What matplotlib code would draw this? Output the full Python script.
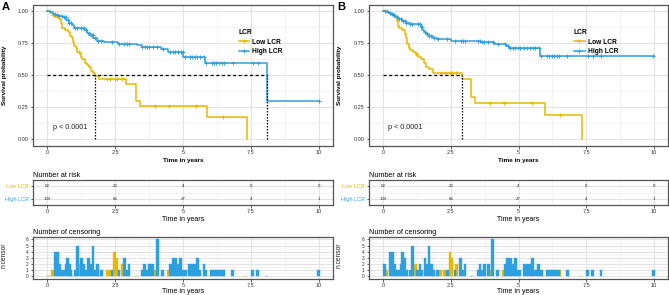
import numpy as np
import matplotlib
matplotlib.use("Agg")
import matplotlib.pyplot as plt
from matplotlib.lines import Line2D

plt.rcParams['font.family'] = ['Liberation Sans', 'DejaVu Sans']

low_color = '#E7B800'
high_color = '#2E9FDF'
groups = ['Low LCR', 'High LCR']

# ---- panel A data ----
a_low_t = [0.12, 0.2, 0.3, 0.45, 0.5, 0.55, 0.65, 0.75, 0.85, 0.9, 0.95, 1.0, 1.05, 1.1, 1.2,
           1.25, 1.3, 1.38, 1.45, 1.55, 1.62, 1.7, 1.76, 1.9, 2.92, 3.28, 3.40, 5.9, 7.35]
a_low_s = [0.984, 0.968, 0.952, 0.935, 0.903, 0.871, 0.855, 0.839, 0.806, 0.79, 0.758, 0.726, 0.71,
           0.677, 0.661, 0.645, 0.629, 0.597, 0.581, 0.565, 0.532, 0.516, 0.49, 0.472, 0.43, 0.30,
           0.262, 0.17, 0.0]
a_high_t = [0.1, 0.2, 0.3, 0.45, 0.55, 0.7, 0.8, 0.9, 1.0, 1.35, 1.45, 1.55, 1.7, 1.85, 2.1,
            2.6, 3.3, 3.5, 4.2, 4.45, 5.0, 5.82, 8.09]
a_high_s = [0.99, 0.98, 0.97, 0.96, 0.95, 0.93, 0.91, 0.89, 0.87, 0.85, 0.83, 0.81, 0.79, 0.77,
            0.76, 0.745, 0.735, 0.72, 0.70, 0.683, 0.644, 0.592, 0.30]
a_high_end = 10.0
a_medians = [1.76, 8.09]

# censoring counts, panel A
a_cens_low_t = [0.02, 0.2, 1.19, 2.2, 2.3, 2.49, 2.57, 2.75, 3.26, 3.98, 4.47, 5.48, 5.94, 6.47, 7.3]
a_cens_low_n = [0, 1, 2, 1, 1, 4, 3, 2, 0, 1, 1, 1, 0, 1, 0]
a_cens_high_t = [0.07, 0.29, 0.38, 0.45, 0.54, 0.62, 0.69, 0.75, 0.82, 0.88, 0.94, 1.03, 1.11,
                 1.26, 1.34, 1.42, 1.53, 1.6, 1.69, 1.77, 1.86, 1.93, 2.0, 2.39, 2.64, 2.84,
                 2.93, 3.01, 3.34, 3.5, 3.59, 3.67, 3.76, 3.89, 4.06, 4.25, 4.53, 4.63, 4.72,
                 4.81, 4.91, 4.99, 5.08, 5.24, 5.34, 5.43, 5.53, 5.62, 5.77, 5.85, 6.05, 6.13,
                 6.22, 6.34, 6.43, 6.51, 6.83, 7.56, 7.75, 8.08, 9.99]
a_cens_high_n = [0, 4, 4, 2, 1, 1, 2, 3, 2, 1, 0, 1, 5, 3, 2, 1, 3, 2, 5, 1, 2, 0, 1, 1, 1, 3,
                 1, 2, 0, 1, 2, 1, 2, 2, 6, 1, 2, 3, 3, 2, 3, 1, 1, 2, 2, 2, 3, 1, 2, 1, 1, 1,
                 1, 1, 1, 1, 1, 1, 1, 0, 1]

# ---- panel B data ----
b_low_t = [0.18, 0.3, 0.4, 0.5, 0.55, 0.6, 0.7, 0.8, 0.85, 0.9, 0.95, 1.0, 1.1, 1.2, 1.3, 1.4,
           1.5, 1.6, 1.7, 1.85, 2.91, 3.25, 3.4, 5.96, 7.35]
b_low_s = [0.984, 0.968, 0.952, 0.919, 0.887, 0.871, 0.855, 0.823, 0.79, 0.742, 0.71, 0.694,
           0.677, 0.661, 0.645, 0.629, 0.597, 0.565, 0.548, 0.516, 0.47, 0.33, 0.28, 0.19, 0.0]
b_high_t = [0.1, 0.2, 0.3, 0.4, 0.45, 0.55, 0.7, 0.85, 1.0, 1.4, 1.45, 1.5, 1.6, 1.7, 1.85, 2.0,
            2.5, 3.6, 4.1, 4.55, 4.65, 5.8]
b_high_s = [0.993, 0.986, 0.978, 0.97, 0.955, 0.94, 0.925, 0.91, 0.895, 0.875, 0.855, 0.835,
            0.82, 0.805, 0.79, 0.78, 0.77, 0.76, 0.74, 0.725, 0.71, 0.65]
b_high_end = 10.0
b_medians = [2.91]

b_cens_low_t = [0.14, 1.2, 2.13, 2.27, 2.47, 2.55, 2.71, 3.24, 3.96, 4.45, 5.5, 5.96, 6.52, 7.3]
b_cens_low_n = [1, 2, 1, 1, 4, 3, 2, 0, 1, 1, 1, 0, 1, 0]
b_cens_high_t = [0.06, 0.26, 0.34, 0.42, 0.5, 0.58, 0.66, 0.72, 0.8, 0.86, 0.92, 1.0, 1.08,
                 1.28, 1.36, 1.43, 1.55, 1.62, 1.7, 1.78, 1.87, 1.95, 2.02, 2.37, 2.66, 2.86,
                 2.95, 3.03, 3.3, 3.5, 3.58, 3.66, 3.74, 3.88, 4.05, 4.23, 4.5, 4.6, 4.7,
                 4.79, 4.88, 4.97, 5.06, 5.22, 5.32, 5.42, 5.52, 5.62, 5.75, 5.84, 6.05, 6.13,
                 6.22, 6.32, 6.41, 6.5, 6.8, 7.55, 7.74, 8.05, 9.98]
b_cens_high_n = [2, 4, 4, 2, 1, 1, 2, 4, 3, 1, 0, 1, 5, 1, 2, 1, 3, 2, 5, 2, 1, 0, 1, 1, 1, 3,
                 1, 2, 0, 1, 2, 1, 2, 2, 6, 1, 2, 3, 3, 2, 3, 1, 1, 2, 2, 2, 3, 1, 2, 1, 1, 1,
                 1, 1, 1, 1, 1, 1, 1, 1, 1]

# number at risk
risk_times = [0, 2.5, 5, 7.5, 10]
a_risk_low = [62, 20, 4, 0, 0]
a_risk_high = [139, 65, 27, 4, 1]
b_risk_low = [62, 20, 4, 0, 0]
b_risk_high = [139, 65, 27, 4, 1]

xticks = [0, 2.5, 5, 7.5, 10]
xticklabels = ['0', '2.5', '5', '7.5', '10']

W, H = 669, 295
fig = plt.figure(figsize=(W / 100, H / 100), dpi=100)


def px_axes(x0, y0, x1, y1):
    return fig.add_axes([x0 / W, 1 - y1 / H, (x1 - x0) / W, (y1 - y0) / H])


def style(ax, ygrid_minor):
    ax.set_xlim(-0.52, 10.52)
    ax.set_xticks(xticks)
    ax.set_xticklabels(xticklabels)
    ax.set_xticks([1.25, 3.75, 6.25, 8.75], minor=True)
    ax.set_yticks(ygrid_minor, minor=True)
    ax.grid(True, which='major', color='#e3e3e3', lw=0.8)
    ax.grid(True, which='minor', color='#eeeeee', lw=0.5)
    ax.tick_params(which='minor', length=0)
    ax.tick_params(which='major', length=1.8, width=0.6, color='#444444', pad=1.2,
                   labelsize=4, labelcolor='#333333')
    ax.set_axisbelow(True)
    for sp in ax.spines.values():
        sp.set_color('#555555')
        sp.set_linewidth(0.9)


def step_arrays(t, s, end):
    tt = np.array([0.0] + list(t) + ([end] if end is not None else []))
    ss = np.array([1.0] + list(s) + ([s[-1]] if end is not None else []))
    return tt, ss


def surv_at(tt, ss, x):
    idx = np.searchsorted(tt, x, side='right') - 1
    return ss[idx]


def survival_panel(ax, curves, medians):
    for t, s, end, ct, cn, col in curves:
        tt, ss = step_arrays(t, s, end)
        ax.step(tt, ss, where='post', color=col, lw=1.1)
        ct = np.array(ct)
        cn = np.array(cn)
        mark = ct[(cn > 0) & (ct <= tt[-1])]
        ax.plot(mark, surv_at(tt, ss, mark), ls='none', marker='+', ms=3.5, mew=0.7, color=col)
    ax.plot([0, max(medians)], [0.5, 0.5], color='black', ls=(0, (2.5, 2)), lw=0.9)
    for m in medians:
        ax.plot([m, m], [0, 0.5], color='black', ls=(0, (1.2, 1.2)), lw=0.9)
    ax.set_ylim(-0.05, 1.05)
    ax.set_yticks([0, 0.25, 0.5, 0.75, 1.0])
    ax.set_yticklabels(['0.00', '0.25', '0.50', '0.75', '1.00'])
    style(ax, [0.125, 0.375, 0.625, 0.875])
    ax.set_xlabel('Time in years', fontsize=4.6, fontweight='bold', labelpad=2)
    ax.text(0.2, 0.08, 'p < 0.0001', fontsize=5.2, color='#222222')
    handles = [Line2D([0], [0], color=low_color, lw=1.1, marker='+', ms=3.5, mew=0.7),
               Line2D([0], [0], color=high_color, lw=1.1, marker='+', ms=3.5, mew=0.7)]
    leg = ax.legend(handles, groups, title='LCR', loc='upper left', bbox_to_anchor=(0.665, 0.87),
                    frameon=False, fontsize=4.8, title_fontsize=4.8, handlelength=1.6,
                    handletextpad=0.5, labelspacing=0.4, alignment='left')
    for txt in leg.get_texts():
        txt.set_fontweight('bold')
    leg.get_title().set_fontweight('bold')


def risk_panel(ax, low, high):
    for row, vals in ((2, low), (1, high)):
        for x, v in zip(risk_times, vals):
            ax.text(x, row, str(v), fontsize=3.2, ha='center', va='center', color='#222222')
    ax.set_ylim(0.5, 2.5)
    ax.set_yticks([1, 2])
    ax.set_yticklabels(['High LCR', 'Low LCR'])
    style(ax, [1.5])
    ax.get_yticklabels()[0].set_color(high_color)
    ax.get_yticklabels()[1].set_color(low_color)
    ax.set_xlabel('Time in years', fontsize=5, labelpad=1)
    ax.set_title('Number at risk', fontsize=5.2, loc='left', pad=2.5)


def censor_panel(ax, lt, ln, ht, hn):
    ax.bar(lt, ln, width=0.1, color=low_color, edgecolor=low_color, lw=0.3)
    ax.bar(ht, hn, width=0.1, color=high_color, edgecolor=high_color, lw=0.3)
    ax.set_ylim(-0.35, 6.4)
    ax.set_yticks(range(7))
    style(ax, [0.5, 1.5, 2.5, 3.5, 4.5, 5.5])
    ax.tick_params(axis='y', labelsize=3.5)
    ax.set_xlabel('Time in years', fontsize=5, labelpad=0.5)
    ax.set_title('Number of censoring', fontsize=5.2, loc='left', pad=2.5)


panels = [
    (0, 'A', [(a_low_t, a_low_s, None, a_cens_low_t, a_cens_low_n, low_color),
              (a_high_t, a_high_s, a_high_end, a_cens_high_t, a_cens_high_n, high_color)],
     a_medians, a_risk_low, a_risk_high,
     (a_cens_low_t, a_cens_low_n, a_cens_high_t, a_cens_high_n)),
    (335, 'B', [(b_low_t, b_low_s, None, b_cens_low_t, b_cens_low_n, low_color),
                (b_high_t, b_high_s, b_high_end, b_cens_high_t, b_cens_high_n, high_color)],
     b_medians, b_risk_low, b_risk_high,
     (b_cens_low_t, b_cens_low_n, b_cens_high_t, b_cens_high_n)),
]

for off, letter, curves, meds, rlow, rhigh, cens in panels:
    x0 = off + 33 if off == 0 else off + 34
    x1 = off + 333
    ax1 = px_axes(x0, 4.6, x1, 145.7)
    survival_panel(ax1, curves, meds)
    fig.text((off + 5) / W, 1 - 75 / H, 'Survival probability', rotation=90, fontsize=4.6,
             fontweight='bold', ha='center', va='center')
    fig.text((off + 2) / W, 1 - 7 / H, letter, fontsize=8, fontweight='bold', ha='left', va='center')

    ax2 = px_axes(x0, 180, x1, 205)
    risk_panel(ax2, rlow, rhigh)

    ax3 = px_axes(x0, 237, x1, 278.5)
    censor_panel(ax3, *cens)
    fig.text((off + 4) / W, 1 - 255 / H, 'n.censor', rotation=90, fontsize=4.8,
             ha='center', va='center', color='#222222')

fig.savefig('out.png', dpi=100)
